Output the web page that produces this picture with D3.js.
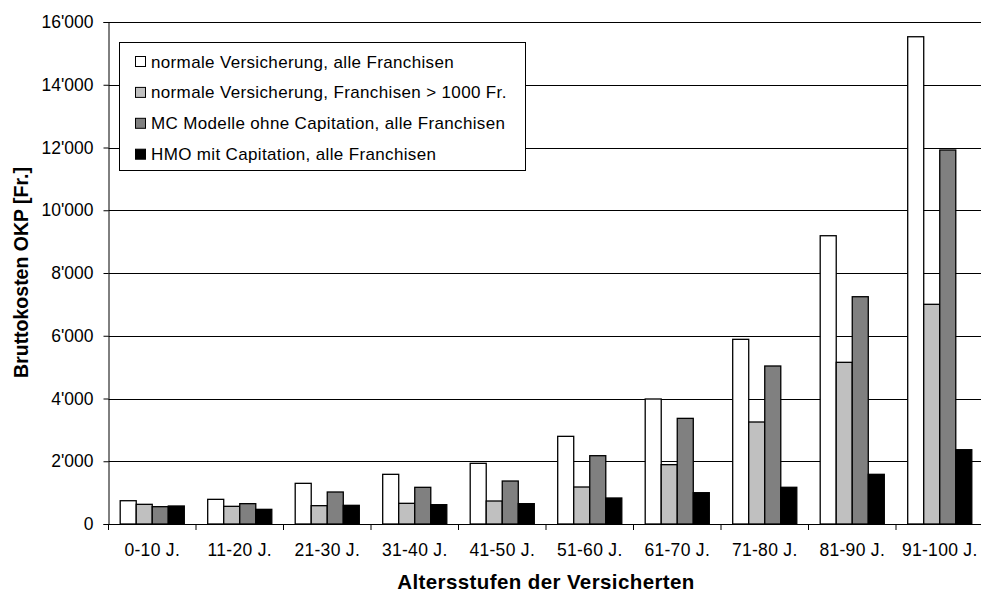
<!DOCTYPE html>
<html>
<head>
<meta charset="utf-8">
<script src="https://cdn.jsdelivr.net/npm/d3@7"></script>
<style>
  body { margin: 0; background: #fff; }
  svg { display: block; font-family: "Liberation Sans", Arial, sans-serif; }
</style>
</head>
<body>
<svg id="chart" width="981" height="592"></svg>
<script>
// age groups and the four insurance models
const ageGroups = ["0-10 J.", "11-20 J.", "21-30 J.", "31-40 J.", "41-50 J.",
                   "51-60 J.", "61-70 J.", "71-80 J.", "81-90 J.", "91-100 J."];
const seriesNames = [
    "normale Versicherung, alle Franchisen",
    "normale Versicherung, Franchisen > 1000 Fr.",
    "MC Modelle ohne Capitation, alle Franchisen",
    "HMO mit Capitation, alle Franchisen"
];
const normalAll = [742, 786, 1296, 1583, 1934, 2794, 3984, 5886, 9188, 15530];
const normalHighFr = [627, 563, 584, 659, 733, 1179, 1891, 3251, 5153, 7002];
const mcNoCap = [552, 648, 1020, 1169, 1370, 2177, 3367, 5036, 7244, 11920];
const hmoCap = [574, 467, 595, 616, 648, 829, 998, 1170, 1583, 2368];
const yTicks = [0, 2000, 4000, 6000, 8000, 10000, 12000, 14000, 16000];

const seriesValues = [normalAll, normalHighFr, mcNoCap, hmoCap];
const colors = ["#ffffff", "#c0c0c0", "#808080", "#000000"];

const margin = { top: 22, left: 108.5 };
const plotW = 875, plotH = 502;

const svg = d3.select("#chart");
const g = svg.append("g").attr("transform", `translate(${margin.left},${margin.top})`);

const x0 = d3.scaleBand().domain(ageGroups).range([0, plotW]).padding(0);
const x1 = d3.scaleBand().domain(d3.range(4)).range([0, x0.bandwidth()])
    .paddingInner(0).paddingOuter(0.73);
const y = d3.scaleLinear().domain([0, 16000]).range([plotH, 0]);

const fmt = d3.formatLocale({ decimal: ".", thousands: "'", grouping: [3], currency: ["", ""] }).format(",");

// gridlines
g.append("g")
    .selectAll("line")
    .data(yTicks.filter(d => d > 0))
    .join("line")
    .attr("x1", 0).attr("x2", plotW)
    .attr("y1", d => Math.round(y(d)) + 0.5).attr("y2", d => Math.round(y(d)) + 0.5)
    .attr("stroke", "#000").attr("stroke-width", 1);

// bars
const groups = g.append("g")
    .selectAll("g")
    .data(ageGroups)
    .join("g")
    .attr("transform", d => `translate(${x0(d)},0)`);

groups.selectAll("rect")
    .data((d, i) => seriesValues.map((vals, s) => ({ s: s, v: vals[i] })))
    .join("rect")
    .attr("x", d => x1(d.s))
    .attr("width", x1.bandwidth())
    .attr("y", d => y(d.v))
    .attr("height", d => plotH - y(d.v))
    .attr("fill", d => colors[d.s])
    .attr("stroke", "#000")
    .attr("stroke-width", 1.3);

// y axis
const yAxis = g.append("g")
    .call(d3.axisLeft(y).tickValues(yTicks).tickFormat(fmt).tickSize(5).tickPadding(10));
yAxis.select(".domain").attr("stroke", "#000");
yAxis.selectAll("text")
    .attr("font-size", 17.5).attr("fill", "#000")
    .attr("font-family", "'Liberation Sans', Arial, sans-serif");

// x axis with ticks on the category boundaries
const xAxisG = g.append("g").attr("transform", `translate(0,${plotH})`);
xAxisG.append("line")
    .attr("x1", 0).attr("x2", plotW).attr("y1", 0.5).attr("y2", 0.5)
    .attr("stroke", "#000");
xAxisG.selectAll(".sep")
    .data(ageGroups)
    .join("line")
    .attr("class", "sep")
    .attr("x1", d => x0(d)).attr("x2", d => x0(d))
    .attr("y1", 0).attr("y2", 6)
    .attr("stroke", "#000");
xAxisG.selectAll(".lbl")
    .data(ageGroups)
    .join("text")
    .attr("class", "lbl")
    .attr("x", d => x0(d) + x0.bandwidth() / 2)
    .attr("y", 32)
    .attr("text-anchor", "middle")
    .attr("font-size", 17.5)
    .attr("letter-spacing", 0.3)
    .text(d => d);

// axis titles
svg.append("text")
    .attr("x", margin.left + plotW / 2)
    .attr("y", 589)
    .attr("text-anchor", "middle")
    .attr("font-size", 20.5)
    .attr("font-weight", "bold")
    .attr("letter-spacing", 0.4)
    .text("Altersstufen der Versicherten");

svg.append("text")
    .attr("transform", "translate(28,272.5) rotate(-90)")
    .attr("text-anchor", "middle")
    .attr("font-size", 19.5)
    .attr("font-weight", "bold")
    .text("Bruttokosten OKP [Fr.]");

// legend
const legend = svg.append("g");
legend.append("rect")
    .attr("x", 119.5).attr("y", 42.5)
    .attr("width", 406).attr("height", 128)
    .attr("fill", "#fff").attr("stroke", "#000").attr("stroke-width", 1);

const rows = legend.selectAll(".row")
    .data(seriesNames)
    .join("g")
    .attr("class", "row")
    .attr("transform", (d, i) => `translate(135,${61.5 + i * 30.9})`);
rows.append("rect")
    .attr("x", 0.5).attr("y", -5)
    .attr("width", 10).attr("height", 10)
    .attr("fill", (d, i) => colors[i])
    .attr("stroke", "#000").attr("stroke-width", 1);
rows.append("text")
    .attr("x", 16).attr("y", 6)
    .attr("font-size", 17)
    .attr("letter-spacing", 0.35)
    .text(d => d);
</script>
</body>
</html>
